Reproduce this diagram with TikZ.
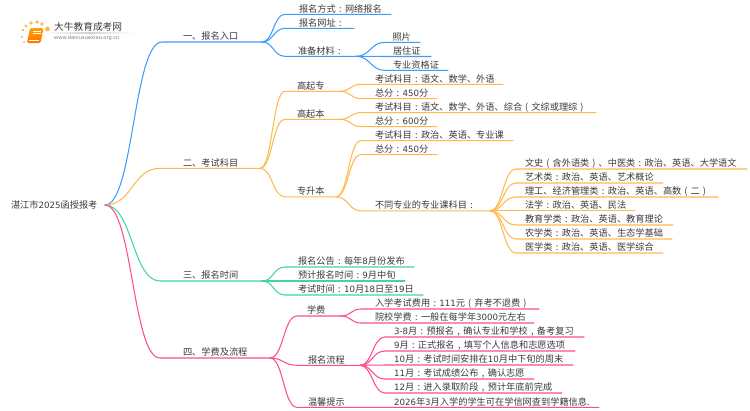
\documentclass[tikz,border=0pt]{standalone}
\usepackage{fontspec}
\setmainfont{Noto Sans CJK SC}
\newfontfamily\latf[Scale=0.94]{DejaVu Sans}
\newcommand\nm[1]{{\latf #1}}
\newcommand\cl{\makebox[1em]{:}}
\newcommand\cm{\makebox[1em]{,}}
\newcommand\lp{\makebox[1em]{(}}
\newcommand\rp{\makebox[1em]{)}}
\usetikzlibrary{calc}
\definecolor{cblue}{HTML}{3D9BFF}
\definecolor{corange}{HTML}{FDBA4F}
\definecolor{cgreen}{HTML}{43D69B}
\definecolor{cpink}{HTML}{FF4B93}
\definecolor{ctxt}{HTML}{3A3A3A}
\tikzset{
  lbl/.style={anchor=base west,inner sep=0pt,outer sep=0pt,text=ctxt,font=\fontsize{9.2}{11}\selectfont},
  wire/.style={line width=1.05pt,line cap=round},
}
% name, parent, colour, line start x, line end x, line y, text x, text
\newcommand\br[8]{%
  \coordinate (#1-s) at (#4,#6);
  \coordinate (#1-e) at (#5,#6);
  \coordinate (#1-m) at ($(#2-e)!.5!(#1-s)$);
  \node[lbl] (#1) at (#7,#6) [yshift=2.3pt] {#8};
  \draw[wire,#3] (#2-e) .. controls (#1-m |- #2-e) and (#1-m |- #1-s) .. (#1-s) -- (#1-e);
}
\begin{document}
\begin{tikzpicture}[x=1pt,y=-1pt]
\useasboundingbox (0,0) rectangle (750,410);
% logo
\foreach \i/\a/\b/\r in {1/23/30/1.4,2/26/26/1.6,3/31/23/1.9,4/37/22/1.9,5/42/24/1.9,6/47.5/29/2.4,7/22/37/1.2,8/24/42/1}{
  \fill[corange] (\a,\b) circle (\r);
}
\path[top color=orange!75!yellow,bottom color=orange!90!red,rounded corners=1.5pt] (30,28) -- (43.5,28) -- (40.5,43) -- (27,43) -- cycle;
\draw[white,line width=0.5pt] (33,31) -- (41,31) (32.5,33) -- (40.5,33);
\draw[white,line width=0.6pt] (28.5,40.3) -- (39,40.3);
\node[inner sep=0pt,anchor=west,text=ctxt,font=\fontsize{9.7}{12}\selectfont] (logoa) at (54,26.7) {大牛教育成考网};
\node[inner sep=0pt,anchor=west,text=gray,font=\latf\fontsize{5.4}{7}\selectfont] (logob) at (54,38.5) {www.daniuxuexiao.org.cn};
\shade[left color=white,right color=white,middle color=black!18] (44,32.7) rectangle (134,33.4);
% root
\node[lbl,anchor=west] (root) at (11,205) {湛江市\nm{2025}函授报考};
\coordinate (root-e) at (105,205);
% branch 1
\br{a}{root}{cblue}{162}{262}{42}{183}{一、报名入口}
\br{a1}{a}{cblue}{285}{391}{14.3}{299}{报名方式\cl 网络报名}
\br{a2}{a}{cblue}{285}{354}{28.3}{299}{报名网址\cl}
\br{a3}{a}{cblue}{285}{356}{56.3}{298}{准备材料\cl}
\br{a31}{a3}{cblue}{385}{420}{42.3}{392.5}{照片}
\br{a32}{a3}{cblue}{385}{431}{56.5}{393}{居住证}
\br{a33}{a3}{cblue}{385}{448}{70.4}{393}{专业资格证}
% branch 2
\br{b}{root}{corange}{160}{260}{168.3}{183}{二、考试科目}
\br{b1}{b}{corange}{285}{340}{91.3}{297}{高起专}
\br{b11}{b1}{corange}{361}{503}{84.3}{375}{考试科目\cl 语文、数学、外语}
\br{b12}{b1}{corange}{361}{437}{98.6}{375}{总分\cl\nm{450}分}
\br{b2}{b}{corange}{285}{340}{119.3}{297}{高起本}
\br{b21}{b2}{corange}{361}{596}{112.6}{375}{考试科目\cl 语文、数学、外语、综合\lp 文综或理综\rp}
\br{b22}{b2}{corange}{361}{437}{126.6}{375}{总分\cl\nm{600}分}
\br{b3}{b}{corange}{285}{336}{196.8}{297}{专升本}
\br{b31}{b3}{corange}{361}{513}{140.6}{375}{考试科目\cl 政治、英语、专业课}
\br{b32}{b3}{corange}{361}{437}{154.6}{375}{总分\cl\nm{450}分}
\br{b33}{b3}{corange}{361}{490}{210.8}{375}{不同专业的专业课科目\cl}
\br{c1}{b33}{corange}{516}{747}{169}{525}{文史\lp 含外语类\rp、中医类\cl 政治、英语、大学语文}
\br{c2}{b33}{corange}{516}{663}{183}{525}{艺术类\cl 政治、英语、艺术概论}
\br{c3}{b33}{corange}{516}{718}{197}{525}{理工、经济管理类\cl 政治、英语、高数\lp 二\rp}
\br{c4}{b33}{corange}{516}{635}{210.8}{525}{法学\cl 政治、英语、民法}
\br{c5}{b33}{corange}{516}{673}{225}{525}{教育学类\cl 政治、英语、教育理论}
\br{c6}{b33}{corange}{516}{672}{239}{525}{农学类\cl 政治、英语、生态学基础}
\br{c7}{b33}{corange}{516}{663}{253}{525}{医学类\cl 政治、英语、医学综合}
% branch 3
\br{d}{root}{cgreen}{160}{262}{281}{183}{三、报名时间}
\br{d1}{d}{cgreen}{285}{414}{267}{298}{报名公告\cl 每年\nm{8}月份发布}
\br{d2}{d}{cgreen}{285}{405}{281}{298}{预计报名时间\cl\nm{9}月中旬}
\br{d3}{d}{cgreen}{285}{423}{295}{298}{考试时间\cl\nm{10}月\nm{18}日至\nm{19}日}
% branch 4
\br{e}{root}{cpink}{160}{270}{358}{183}{四、学费及流程}
\br{e1}{e}{cpink}{297}{341}{316}{307}{学费}
\br{e11}{e1}{cpink}{361}{539}{309}{375}{入学考试费用\cl\nm{111}元\lp 弃考不退费\rp}
\br{e12}{e1}{cpink}{361}{534}{323}{375}{院校学费\cl 一般在每学年\nm{3000}元左右}
\br{e2}{e}{cpink}{297}{360}{365.3}{308}{报名流程}
\br{e21}{e2}{cpink}{385}{584}{337}{394}{\nm{3-8}月\cl 预报名\cm 确认专业和学校\cm 备考复习}
\br{e22}{e2}{cpink}{385}{575}{351}{394}{\nm{9}月\cl 正式报名\cm 填写个人信息和志愿选项}
\br{e23}{e2}{cpink}{385}{573}{365}{394}{\nm{10}月\cl 考试时间安排在\nm{10}月中下旬的周末}
\br{e24}{e2}{cpink}{385}{534}{379}{394}{\nm{11}月\cl 考试成绩公布\cm 确认志愿}
\br{e25}{e2}{cpink}{385}{562}{393}{394}{\nm{12}月\cl 进入录取阶段\cm 预计年底前完成}
\br{e3}{e}{cpink}{297}{599}{407.3}{308}{温馨提示}
\node[lbl] (e31) at (394,407.3) [yshift=2.3pt] {\nm{2026}年\nm{3}月入学的学生可在学信网查到学籍信息.};
\end{tikzpicture}
\end{document}
